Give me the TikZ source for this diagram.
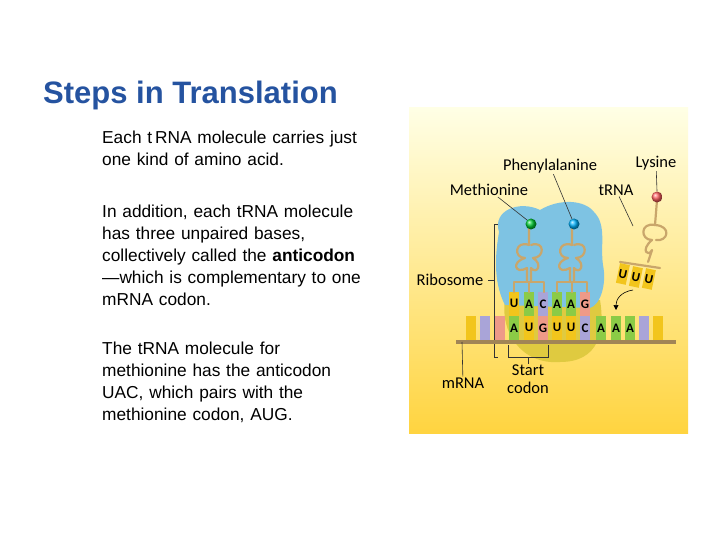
\documentclass[tikz,border=0pt]{standalone}
\usepackage{fontspec}
\setmainfont{Liberation Sans}
\newfontfamily\fut{Carlito}
\usetikzlibrary{arrows.meta}
\definecolor{ttl}{HTML}{2553A0}
\definecolor{tan}{HTML}{C9A66B}
\definecolor{bY}{HTML}{F2C51C}\definecolor{bL}{HTML}{A9A4D8}
\definecolor{bS}{HTML}{EE9A88}\definecolor{bG}{HTML}{8BCB46}
\definecolor{ribo}{HTML}{7EC3E3}
\tikzset{body/.style={anchor=north west,align=left,font=\fontsize{17.3}{22}\selectfont,text width=380pt,inner sep=0},
 lab/.style={font=\fut\fontsize{16.5}{16.5}\selectfont,inner sep=1pt},
 ptr/.style={black!80,line width=0.6pt},
 trna/.style={tan,line width=2.2pt,line cap=round,line join=round},
 base/.style={minimum width=10pt,inner sep=0,font=\fut\bfseries\fontsize{13}{13}\selectfont}}
\begin{document}
\begin{tikzpicture}[x=1pt,y=-1pt]
\useasboundingbox (0,0) rectangle (720,540);
\fill[white] (0,0) rectangle (720,540);
\node[anchor=base west,text=ttl,font=\bfseries\fontsize{31}{31}\selectfont,inner sep=0] (title) at (43,104) {Steps in Translation};
\node[body] (t1) at (102,131) {Each t\,RNA molecule carries just\\one kind of amino acid.};
\node[body] (t2) at (102,205) {In addition, each tRNA molecule\\has three unpaired bases,\\collectively called the \textbf{anticodon}\\—which is complementary to one\\mRNA codon.};
\node[body] (t3) at (102,342) {The tRNA molecule for\\methionine has the anticodon\\UAC, which pairs with the\\methionine codon, AUG.};
% panel
\shade[top color=white!90!yellow,bottom color=yellow!55!orange!75] (409,108) rectangle (688,433);
% ribosome
\fill[tan!60!yellow] (505,300) .. controls (500,330) and (520,365) .. (560,362) .. controls (600,362) and (605,330) .. (600,300) -- cycle;
\fill[ribo] (505,305) .. controls (492,280) and (496,250) .. (499,232) .. controls (492,210) and (520,200) .. (540,210)
 .. controls (560,198) and (585,200) .. (594,212) .. controls (607,225) and (600,245) .. (603,265) .. controls (607,285) and (600,305) .. (590,308) -- cycle;
% brackets
\draw[ptr] (498,224) -- (494,224) -- (494,357) -- (498,357);
\draw[ptr] (494,280) -- (488,280);
\draw[ptr] (508,345) -- (508,357) -- (548,357) -- (548,345);
\draw[ptr] (528,357) -- (528,364);
% mRNA backbone
\fill[tan!80!black] (456,340) rectangle (676,344);
% bases
\foreach \x/\c/\l in {471/bY/,485/bL/,500/bS/,514/bG/A,529/bY/U,543/bS/G,557/bY/U,571/bY/U,585/bL/C,601/bG/A,616/bG/A,630/bG/A,644/bL/,658/bY/}
 \node[base,fill=\c,minimum height=24pt,anchor=south] at (\x,340) {\l};
\foreach \x/\c/\l in {514/bY/U,529/bG/A,543/bL/C,557/bG/A,571/bG/A,585/bS/G}
 \node[base,fill=\c,minimum height=24pt,anchor=south] at (\x,316) {\l};
% tRNAs in ribosome
\foreach \cx in {529,572}{
 \draw[trna] (\cx,228) -- (\cx,245) .. controls (\cx-14,240) and (\cx-16,258) .. (\cx-4,258) .. controls (\cx-18,262) and (\cx-14,275) .. (\cx-2,268) -- (\cx-2,282);
 \draw[trna] (\cx+2,245) .. controls (\cx+16,240) and (\cx+16,258) .. (\cx+4,258) .. controls (\cx+14,264) and (\cx+8,275) .. (\cx+2,268) -- (\cx+2,282);
 \draw[trna] (\cx-15,292) -- (\cx-15,282) -- (\cx+15,282) -- (\cx+15,292);
 \draw[trna] (\cx,282) -- (\cx,292);}
% free tRNA
\draw[trna] (657,200) -- (655,225) .. controls (640,222) and (640,240) .. (652,240) .. controls (640,250) and (648,258) .. (652,250) -- (648,262);
\draw[trna] (655,225) .. controls (672,226) and (668,242) .. (656,240);
\draw[trna] (620,262) -- (660,268);
\foreach \x/\y in {625/264,638/267,651/269}
 \node[base,fill=bY,minimum height=20pt,rotate=-12,anchor=north] at (\x,\y) {U};
\draw[-{Triangle[length=5pt,width=5pt]},line width=0.6pt] (633,290) .. controls (620,292) and (616,300) .. (616,310);
% amino acids
\shade[ball color=green!60!teal] (531,224) circle (5.5);
\shade[ball color=cyan!70!blue] (574,224) circle (5.5);
\shade[ball color=red!50!pink] (657,197) circle (5.5);
% labels
\node[lab] (phe) at (550,166) {Phenylalanine};
\node[lab] (met) at (489,190) {Methionine};
\node[lab] (lys) at (656,163) {Lysine};
\node[lab] (trn) at (616,190) {tRNA};
\node[lab] (rib) at (450,280) {Ribosome};
\node[lab] (mrn) at (463,383) {mRNA};
\node[lab,align=center,font=\fut\fontsize{16.5}{18}\selectfont] (stc) at (528,379) {Start\\codon};
\draw[ptr] (phe) -- (572,219);
\draw[ptr] (met) -- (527,220);
\draw[ptr] (lys) -- (657,191);
\draw[ptr] (trn) -- (633,226);
\draw[ptr] (mrn) -- (462,342);
\end{tikzpicture}
\end{document}
